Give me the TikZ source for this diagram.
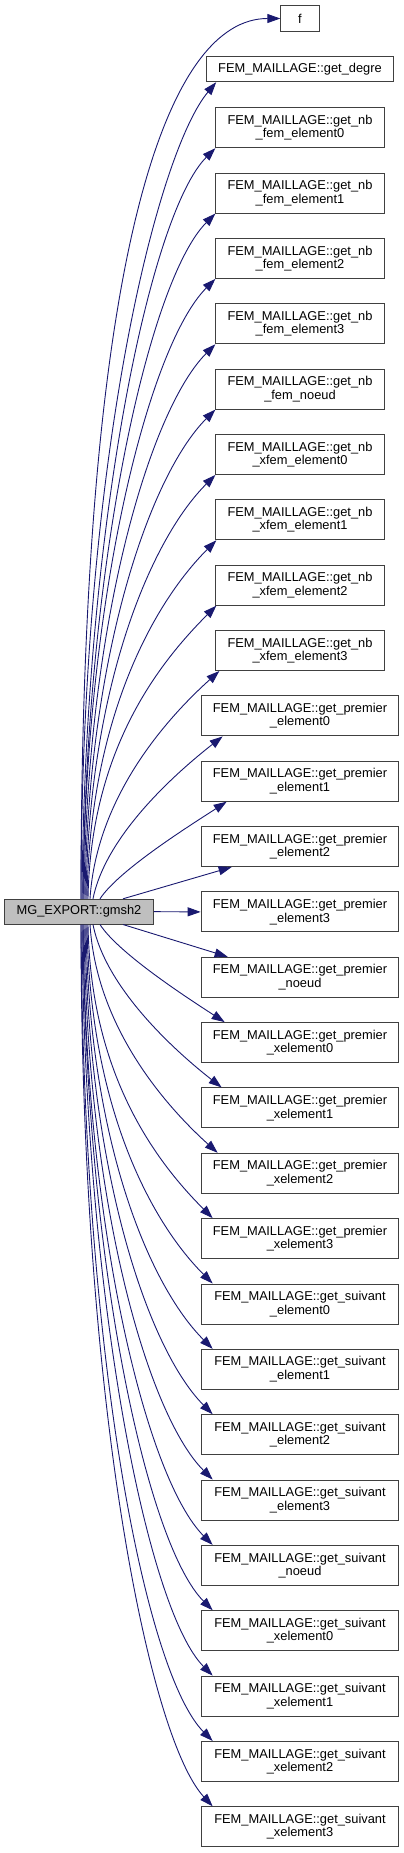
\documentclass[tikz,border=0pt]{standalone}
\usepackage{fontspec}
\setmainfont{Liberation Sans}
\usetikzlibrary{arrows.meta,calc}
\definecolor{edgeblue}{HTML}{191970}
\definecolor{boxline}{HTML}{404040}
\definecolor{mainfill}{HTML}{BFBFBF}
\newcommand\fedge[9]{%
  \draw[edge] let \p1=($(main.#1)+(#2pt,0pt)$), \p2=($(#3.#4)+(#5pt,0pt)$) in
    (\p1) .. controls ({\x1+#6*(\x2-\x1)},{\y1+#7*(\y2-\y1)}) and ({\x2-#9*cos(#8)},{\y2-#9*sin(#8)}) .. (\p2);}
\begin{document}
\begin{tikzpicture}[x=1pt,y=-1pt,
  box/.style={draw=boxline, line width=1pt, fill=white, inner sep=0pt, align=center,
    font=\fontsize{12.85}{13.5}\selectfont},
  edge/.style={draw=edgeblue, line width=0.9pt, -{Triangle[length=13pt,width=9pt]}}]
\useasboundingbox (0,0) rectangle (404,1853);
% source
\node[box, fill=mainfill, minimum width=148.6pt, minimum height=24.7pt] (main) at (79,911.65) {MG\_EXPORT::gmsh2};
% targets
\node[box, minimum width=38.3pt, minimum height=25.3pt] (t0) at (300,18.5) {f};
\node[box, minimum width=186.6pt, minimum height=25pt] (t1) at (300,69.2) {FEM\_MAILLAGE::get\_degre};
\foreach \i/\w/\a/\b in {
  2/168.3/nb/\_fem\_element0, 3/168.3/nb/\_fem\_element1, 4/168.3/nb/\_fem\_element2,
  5/168.3/nb/\_fem\_element3, 6/168.3/nb/\_fem\_noeud, 7/168.3/nb/\_xfem\_element0,
  8/168.3/nb/\_xfem\_element1, 9/168.3/nb/\_xfem\_element2, 10/168.3/nb/\_xfem\_element3,
  11/197.7/premier/\_element0, 12/197.7/premier/\_element1, 13/197.7/premier/\_element2,
  14/197.7/premier/\_element3, 15/197.7/premier/\_noeud, 16/197.7/premier/\_xelement0,
  17/197.7/premier/\_xelement1, 18/197.7/premier/\_xelement2, 19/197.7/premier/\_xelement3,
  20/197.7/suivant/\_element0, 21/197.7/suivant/\_element1, 22/197.7/suivant/\_element2,
  23/197.7/suivant/\_element3, 24/197.7/suivant/\_noeud, 25/197.7/suivant/\_xelement0,
  26/197.7/suivant/\_xelement1, 27/197.7/suivant/\_xelement2, 28/197.7/suivant/\_xelement3}
  \node[box, minimum width={\w pt}, minimum height=40pt] (t\i) at (300,{127.7+(\i-2)*65.35})
    {FEM\_MAILLAGE::get\_\a\\\b};
% edges above
\fedge{north}{2}{t0}{west}{0}{0}{0.75}{0}{111}
\fedge{north}{2}{t1}{south west}{10}{0}{0.55}{50}{90}
\fedge{north}{3}{t2}{south west}{0}{0.02}{0.5}{45}{92}
\fedge{north}{4}{t3}{south west}{0}{0.02}{0.5}{45}{92}
\fedge{north}{4}{t4}{south west}{0}{0.02}{0.5}{45}{92}
\fedge{north}{5}{t5}{south west}{0}{0.02}{0.5}{45}{92}
\fedge{north}{6}{t6}{south west}{0}{0.02}{0.5}{45}{92}
\fedge{north}{7}{t7}{south west}{0}{0.02}{0.5}{45}{92}
\fedge{north}{8}{t8}{south west}{1}{0.02}{0.5}{45}{90}
\fedge{north}{9}{t9}{south west}{1}{0.02}{0.5}{45}{85}
\fedge{north}{11}{t10}{south west}{4}{0.05}{0.45}{42}{70}
\fedge{north}{14}{t11}{south west}{22}{0.1}{0.4}{38}{55}
\fedge{north}{21}{t12}{south west}{26}{0.15}{0.3}{33}{40}
\draw[edge] ($(main.north)+(44pt,0pt)$) -- ($(t13.south west)+(31pt,0pt)$);
% middle
\draw[edge] (main.east) -- (t14.west);
% edges below
\draw[edge] ($(main.south)+(44pt,0pt)$) -- ($(t15.north west)+(27pt,0pt)$);
\fedge{south}{21}{t16}{north west}{24}{0.15}{0.3}{-33}{40}
\fedge{south}{14}{t17}{north west}{21}{0.1}{0.4}{-38}{55}
\fedge{south}{11}{t18}{north west}{17}{0.05}{0.45}{-42}{70}
\fedge{south}{9}{t19}{north west}{12}{0.02}{0.5}{-45}{85}
\fedge{south}{8}{t20}{north west}{12}{0.02}{0.5}{-45}{90}
\fedge{south}{7}{t21}{north west}{12}{0.02}{0.5}{-45}{92}
\fedge{south}{6}{t22}{north west}{12}{0.02}{0.5}{-45}{92}
\fedge{south}{5}{t23}{north west}{12}{0.02}{0.5}{-45}{92}
\fedge{south}{4}{t24}{north west}{12}{0.02}{0.5}{-45}{92}
\fedge{south}{4}{t25}{north west}{12}{0.02}{0.5}{-45}{92}
\fedge{south}{3}{t26}{north west}{12}{0.02}{0.5}{-45}{92}
\fedge{south}{2}{t27}{north west}{12}{0.02}{0.55}{-45}{92}
\fedge{south}{2}{t28}{north west}{12}{0}{0.55}{-47}{92}
\end{tikzpicture}
\end{document}
